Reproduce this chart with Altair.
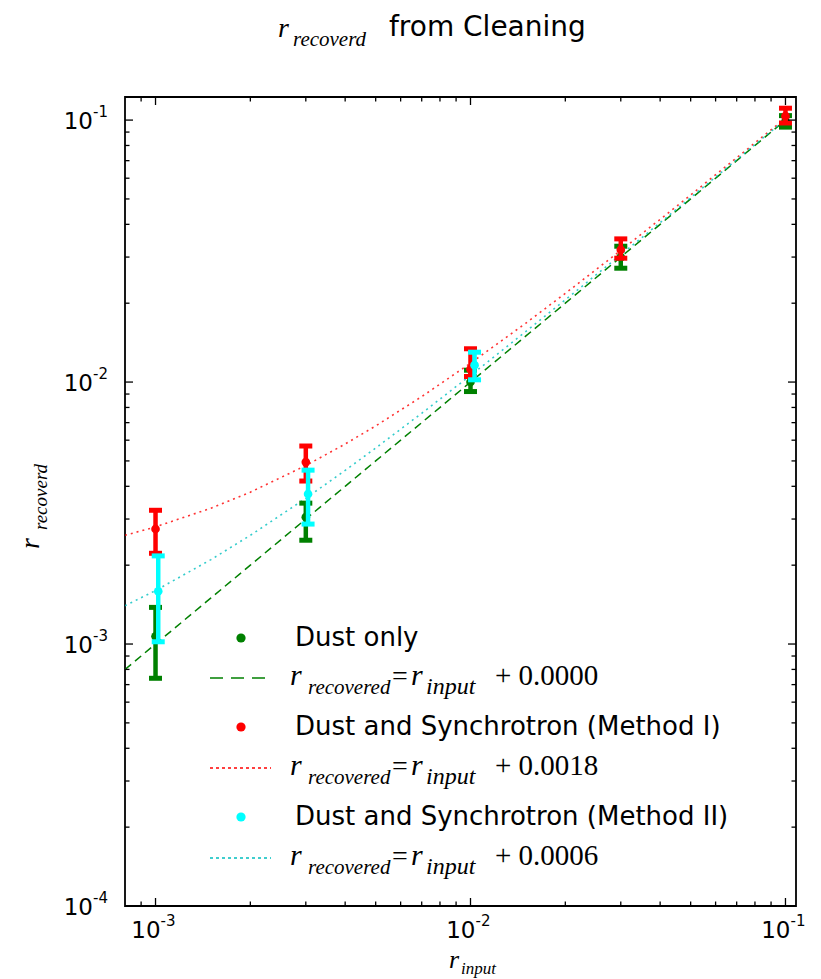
import altair as alt
import pandas as pd

# ---------------- data ----------------
x_input = [0.001, 0.003, 0.01, 0.03, 0.1]

dust_y = [0.00107, 0.00305, 0.0100, 0.0300, 0.0990]
dust_lo = [0.00074, 0.00249, 0.0092, 0.0272, 0.0940]
dust_hi = [0.00138, 0.00345, 0.0111, 0.0330, 0.1040]

m1_y = [0.00275, 0.00495, 0.0112, 0.0320, 0.1035]
m1_lo = [0.00222, 0.00419, 0.0105, 0.0297, 0.0975]
m1_hi = [0.00324, 0.00570, 0.0134, 0.0352, 0.1110]

m2_x = [0.00102, 0.00305, 0.0103]
m2_y = [0.00159, 0.00374, 0.0116]
m2_lo = [0.00102, 0.00287, 0.0102]
m2_hi = [0.00217, 0.00461, 0.0130]

fit_x = [0.0008, 0.001, 0.0015, 0.002, 0.003, 0.004, 0.005, 0.007, 0.01,
         0.015, 0.02, 0.03, 0.04, 0.05, 0.07, 0.1]
fit_offsets = [0.0, 0.0018, 0.0006]
fit_names = ["dust", "m1", "m2"]

x_major = [0.001, 0.01, 0.1]
x_major_exp = ["-3", "-2", "-1"]
x_minor = [0.0009, 0.002, 0.003, 0.004, 0.005, 0.006, 0.007, 0.008, 0.009,
           0.02, 0.03, 0.04, 0.05, 0.06, 0.07, 0.08, 0.09]
y_label_vals = [0.0001, 0.001, 0.01, 0.1]
y_label_exp = ["-4", "-3", "-2", "-1"]
y_major = [0.001, 0.01, 0.1]
y_minor = [0.0002, 0.0003, 0.0004, 0.0005, 0.0006, 0.0007, 0.0008, 0.0009,
           0.002, 0.003, 0.004, 0.005, 0.006, 0.007, 0.008, 0.009,
           0.02, 0.03, 0.04, 0.05, 0.06, 0.07, 0.08, 0.09]

legend_labels = ["Dust only", "Dust and Synchrotron (Method I)", "Dust and Synchrotron (Method II)"]
legend_offsets = ["+ 0.0000", "+ 0.0018", "+ 0.0006"]

GREEN = "#008000"
RED = "#ff0000"
CYAN = "#00ffff"
CYAN_LINE = "#00bfbf"

W, H = 671, 809

xs = alt.Scale(type="log", domain=[0.0008, 0.108], nice=False)
ys = alt.Scale(type="log", domain=[0.0001, 0.1225], nice=False)

# ---------------- tables ----------------
fit_rows = []
for name, off in zip(fit_names, fit_offsets):
    for xv in fit_x:
        fit_rows.append({"x": xv, "y": xv + off, "s": name})
fit_df = pd.DataFrame(fit_rows)


def series_df(xv, yv, lo, hi):
    return pd.DataFrame({"x": xv, "y": yv, "lo": lo, "hi": hi})


dust_df = series_df(x_input, dust_y, dust_lo, dust_hi)
m1_df = series_df(x_input, m1_y, m1_lo, m1_hi)
m2_df = series_df(m2_x, m2_y, m2_lo, m2_hi)

layers = []

# fit lines
line_styles = {"dust": (GREEN, [8, 5], 1.5, 1.0), "m1": (RED, [2, 4], 1.6, 0.8),
               "m2": (CYAN_LINE, [2, 4], 1.6, 0.8)}
for name in fit_names:
    col, dash, sw, op = line_styles[name]
    layers.append(
        alt.Chart(fit_df[fit_df.s == name]).mark_line(color=col, strokeDash=dash, strokeWidth=sw, clip=True,
                                                       opacity=op)
        .encode(x=alt.X("x:Q", scale=xs, axis=None), y=alt.Y("y:Q", scale=ys, axis=None))
    )

# error bars and points
for df, col in [(dust_df, GREEN), (m1_df, RED), (m2_df, CYAN)]:
    b = alt.Chart(df)
    layers.append(b.mark_rule(color=col, strokeWidth=4.5).encode(
        x=alt.X("x:Q", scale=xs), y=alt.Y("lo:Q", scale=ys), y2="hi:Q"))
    for edge in ["lo", "hi"]:
        layers.append(b.mark_tick(color=col, thickness=5, size=13, orient="horizontal", opacity=1).encode(
            x=alt.X("x:Q", scale=xs), y=alt.Y(f"{edge}:Q", scale=ys)))
    layers.append(b.mark_circle(color=col, size=75, opacity=1).encode(
        x=alt.X("x:Q", scale=xs), y=alt.Y("y:Q", scale=ys)))


# inward ticks on all four sides
def xticks(vals, length):
    d = pd.DataFrame({"t": vals})
    bot = alt.Chart(d).mark_rule(color="black", strokeWidth=1.3).encode(
        x=alt.X("t:Q", scale=xs), y=alt.value(H), y2=alt.value(H - length))
    top = alt.Chart(d).mark_rule(color="black", strokeWidth=1.3).encode(
        x=alt.X("t:Q", scale=xs), y=alt.value(0), y2=alt.value(length))
    return [bot, top]


def yticks(vals, length):
    d = pd.DataFrame({"t": vals})
    left = alt.Chart(d).mark_rule(color="black", strokeWidth=1.3).encode(
        y=alt.Y("t:Q", scale=ys), x=alt.value(0), x2=alt.value(length))
    right = alt.Chart(d).mark_rule(color="black", strokeWidth=1.3).encode(
        y=alt.Y("t:Q", scale=ys), x=alt.value(W), x2=alt.value(W - length))
    return [left, right]


layers += xticks(x_major, 8) + xticks(x_minor, 4.5) + yticks(y_major, 8) + yticks(y_minor, 4.5)

# tick labels: "10" with a raised exponent, placed through the scales
xl = pd.DataFrame({"t": x_major, "base": ["10"] * 3, "exp": x_major_exp})
layers.append(alt.Chart(xl).mark_text(font="DejaVu Sans", fontSize=23, align="right", baseline="alphabetic",
                                      dx=5, color="black").encode(
    x=alt.X("t:Q", scale=xs), y=alt.value(H + 32), text="base:N"))
layers.append(alt.Chart(xl).mark_text(font="DejaVu Sans", fontSize=15, align="left", baseline="alphabetic",
                                      dx=5, color="black").encode(
    x=alt.X("t:Q", scale=xs), y=alt.value(H + 20), text="exp:N"))

yl = pd.DataFrame({"t": y_label_vals, "base": ["10"] * 4, "exp": y_label_exp})
layers.append(alt.Chart(yl).mark_text(font="DejaVu Sans", fontSize=23, align="right", baseline="alphabetic",
                                      dy=9, color="black").encode(
    y=alt.Y("t:Q", scale=ys), x=alt.value(-32), text="base:N"))
layers.append(alt.Chart(yl).mark_text(font="DejaVu Sans", fontSize=15, align="left", baseline="alphabetic",
                                      dy=-3, color="black").encode(
    y=alt.Y("t:Q", scale=ys), x=alt.value(-32), text="exp:N"))


# ---------------- text helpers ----------------
def txt(s, px, py, size, font="DejaVu Sans", style="normal", angle=0, baseline="alphabetic"):
    return alt.Chart(pd.DataFrame({"t": [s]})).mark_text(
        font=font, fontSize=size, fontStyle=style, align="left", baseline=baseline,
        angle=angle, color="black", clip=False,
    ).encode(x=alt.value(px), y=alt.value(py), text="t:N")


SERIF = "Liberation Serif"

# title
layers.append(txt("r", 153, -60, 28, SERIF, "italic"))
layers.append(txt("recoverd", 168, -51, 21, SERIF, "italic"))
layers.append(txt("from Cleaning", 264, -61, 28))

# x axis title
layers.append(txt("r", 324, 871, 26, SERIF, "italic"))
layers.append(txt("input", 336, 877, 17, SERIF, "italic"))

# y axis title (rotated)
layers.append(txt("r", -86, 452, 28, SERIF, "italic", angle=270))
layers.append(txt("recoverd", -78, 433, 19, SERIF, "italic", angle=270))

# legend
row_dot_y = [541, 630, 720]
row_line_y = [581, 671, 761]
dot_cols = [GREEN, RED, CYAN]
line_cols = [GREEN, RED, CYAN_LINE]
line_dash = [[13, 8], [3, 3], [3, 3]]
for i in range(3):
    dy = row_dot_y[i]
    ly = row_line_y[i]
    layers.append(alt.Chart(pd.DataFrame({"a": [0]})).mark_circle(color=dot_cols[i], size=85, opacity=1).encode(
        x=alt.value(116), y=alt.value(dy)))
    layers.append(alt.Chart(pd.DataFrame({"a": [0]})).mark_rule(
        color=line_cols[i], strokeDash=line_dash[i], strokeWidth=1.6).encode(
        x=alt.value(85), x2=alt.value(146), y=alt.value(ly)))
    layers.append(txt(legend_labels[i], 170, dy, 26, baseline="middle"))
    layers.append(txt("r", 165, ly + 7, 30, SERIF, "italic"))
    layers.append(txt("recovered", 183, ly + 16, 21, SERIF, "italic"))
    layers.append(txt("=", 267, ly + 7, 28, SERIF))
    layers.append(txt("r", 286, ly + 7, 30, SERIF, "italic"))
    layers.append(txt("input", 301, ly + 16, 24, SERIF, "italic"))
    layers.append(txt(legend_offsets[i], 370, ly + 7, 29, SERIF))

chart = alt.layer(*layers).properties(
    width=W, height=H,
    autosize=alt.AutoSizeParams(type="none"),
    padding={"left": 117, "top": 89, "right": 17, "bottom": 74},
    background="white",
).configure_view(stroke="black", strokeWidth=1.8)

chart.save("out.html", embed_options={"renderer": "svg", "actions": False})
